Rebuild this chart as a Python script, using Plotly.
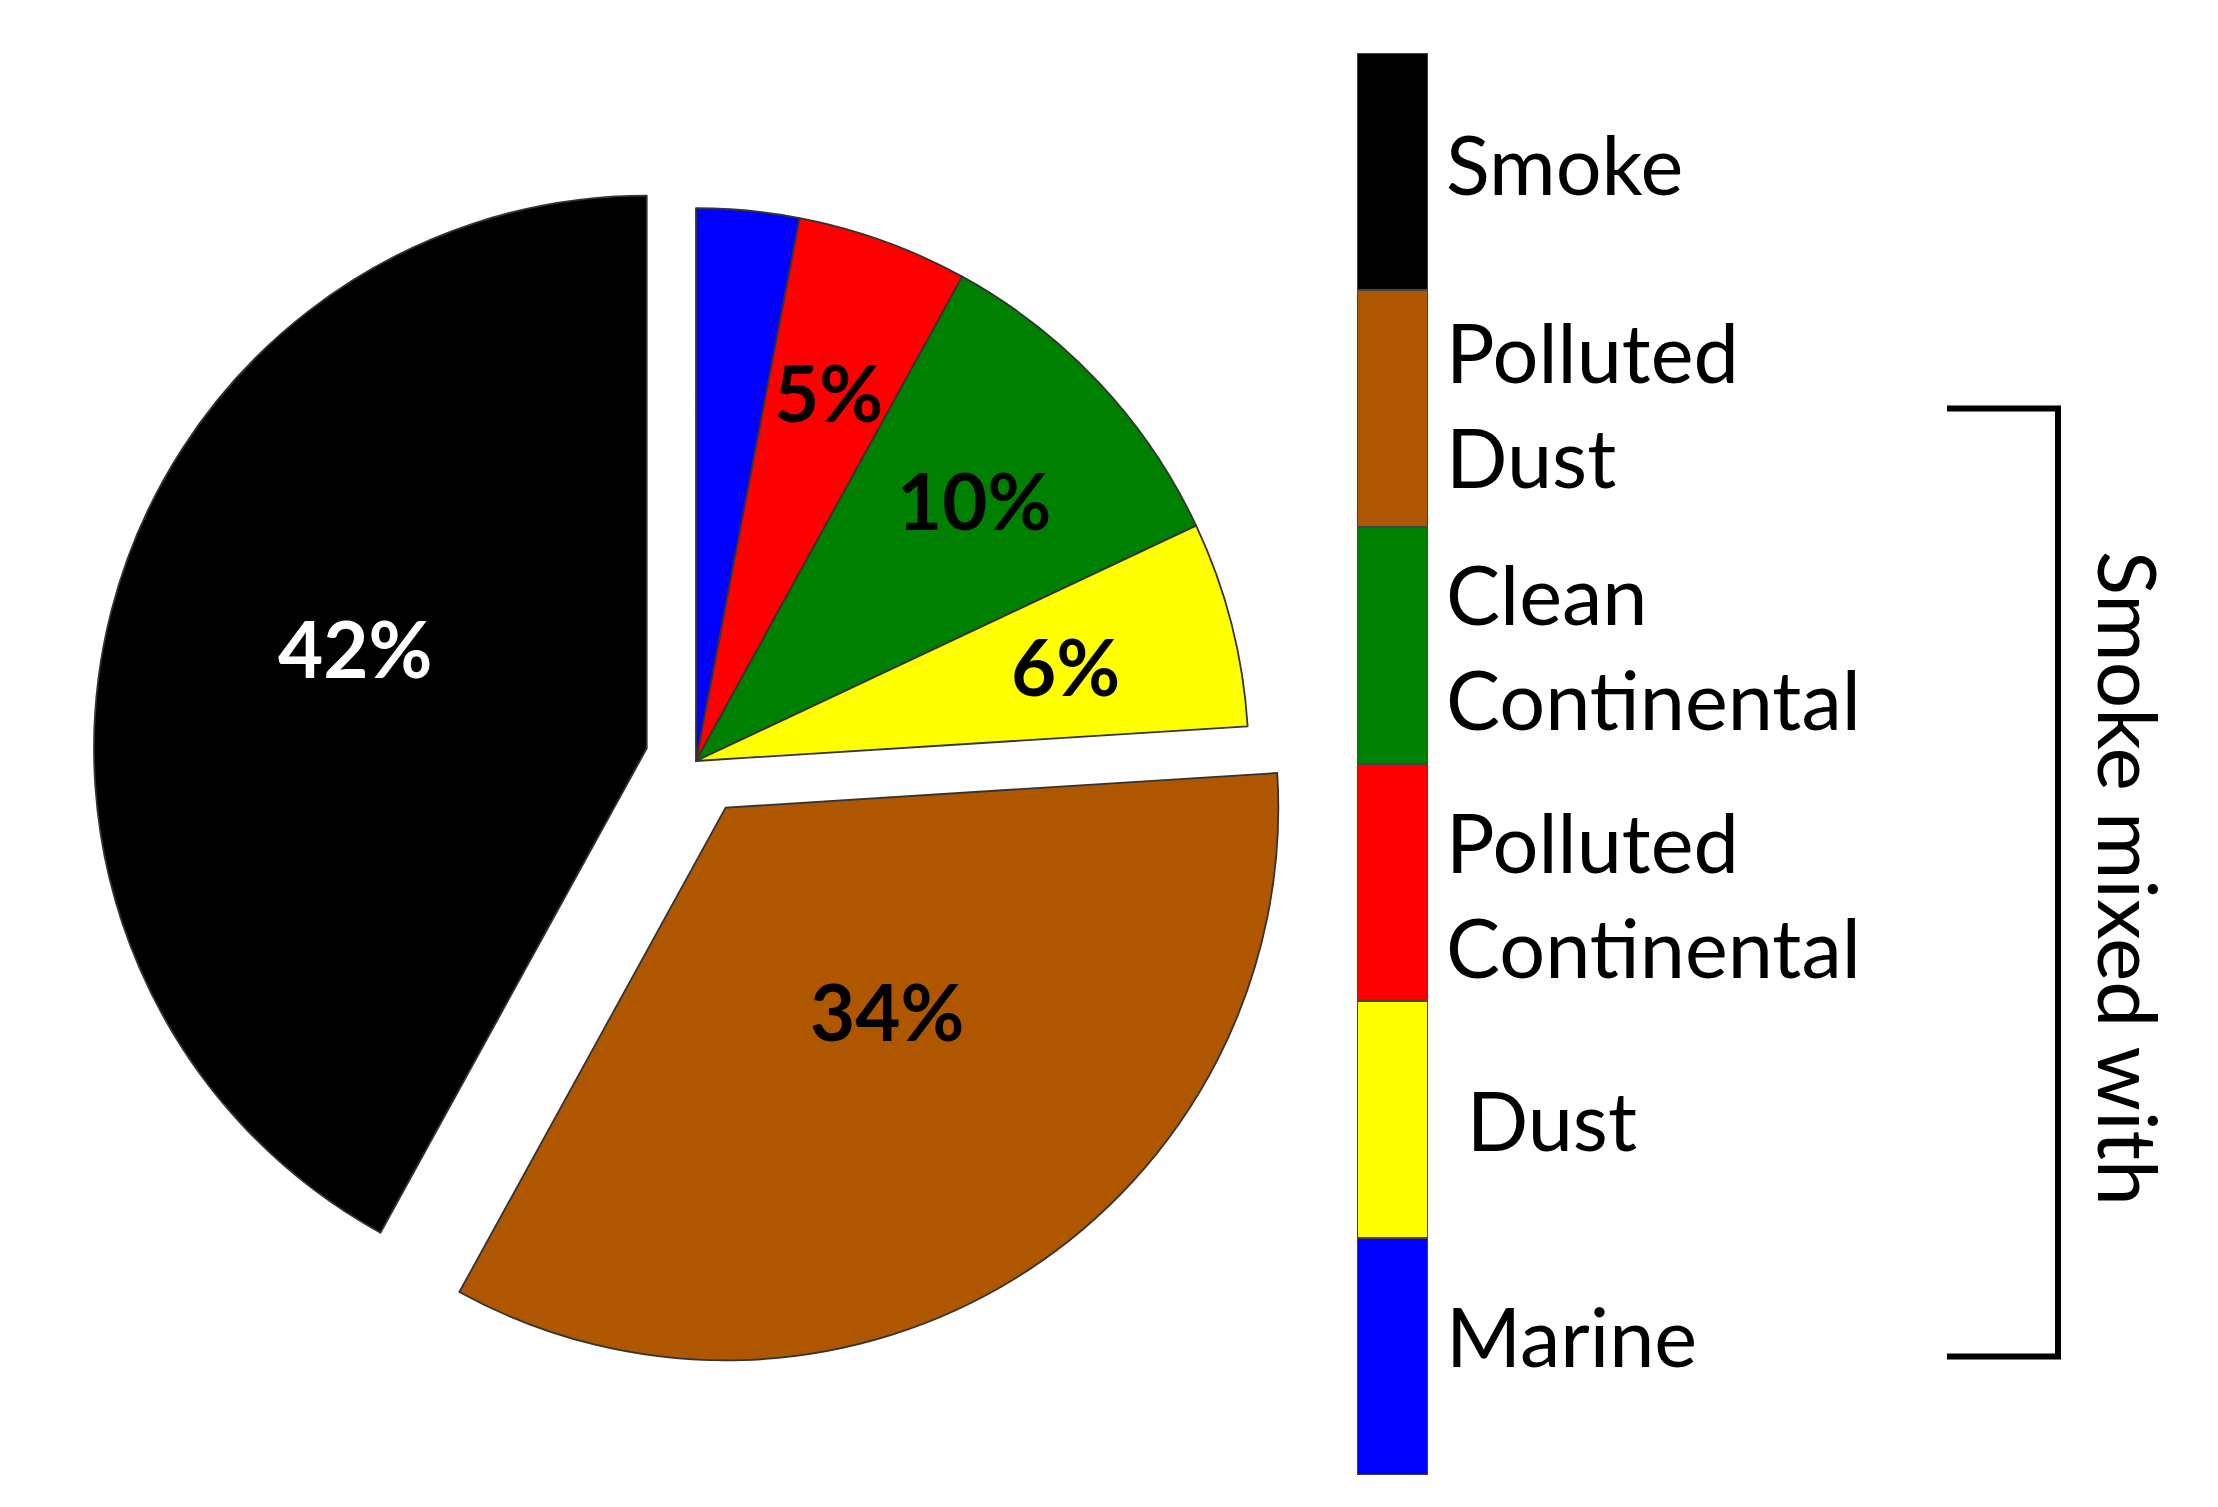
import math
import plotly.graph_objects as go

# pie slices, clockwise from 12 o'clock
pie_labels = ["Marine", "Polluted Continental", "Clean Continental", "Dust", "Polluted Dust", "Smoke"]
pie_values = [3, 5, 10, 6, 34, 42]
pie_colors = ["#0000FF", "#FF0000", "#008000", "#FFFF00", "#AE5700", "#000000"]
pie_pull = [0, 0, 0, 0, 0.10, 0.092]
text_colors = ["black", "black", "black", "black", "black", "white"]
text_radius = [0.0, 0.71, 0.69, 0.69, 0.57, 0.65]   # where each % label sits, fraction of radius
text_turn = [0, 0, 0, 0, -5, 4]                     # small angular nudge of the label (deg)

# colour key, bottom to top
key_labels = ["Marine", "\u00a0Dust", "Polluted<br>Continental", "Clean<br>Continental", "Polluted<br>Dust", "Smoke"]
key_colors = ["#0000FF", "#FFFF00", "#FF0000", "#008000", "#AE5700", "#000000"]
key_nudge = [0.09, 0.0, -0.05, 0.0, 0.02, 0.035]
mixed_first, mixed_last = 0, 4   # bracket spans Marine .. Polluted Dust

FONT = "Lato"
W, H = 2218, 1507

pie_dom = dict(x=[80 / W, 1296 / W], y=[1 - 1361 / H, 1 - 145 / H])

fig = go.Figure()

fig.add_trace(go.Pie(
    labels=pie_labels, values=pie_values, sort=False, direction="clockwise", rotation=0,
    pull=pie_pull, marker=dict(colors=pie_colors, line=dict(color="#333333", width=1.8)),
    textinfo="none", domain=pie_dom, showlegend=False, hoverinfo="label+percent",
))

# percentage labels: placed along each slice's mid-angle, same geometry plotly uses for the pie
cx = (pie_dom["x"][0] + pie_dom["x"][1]) / 2
cy = (pie_dom["y"][0] + pie_dom["y"][1]) / 2
half = min((pie_dom["x"][1] - pie_dom["x"][0]) * W, (pie_dom["y"][1] - pie_dom["y"][0]) * H) / 2
rad = half / (1 + max(pie_pull))
total, acc = sum(pie_values), 0
for lab, v, rr, turn, col in zip(pie_labels, pie_values, text_radius, text_turn, text_colors):
    ang = math.radians((acc + v / 2) / total * 360 + turn)
    acc += v
    if lab == "Marine":
        continue
    fig.add_annotation(x=cx + rr * rad * math.sin(ang) / W, y=cy + rr * rad * math.cos(ang) / H,
                       xref="paper", yref="paper", text=f"{v}%", showarrow=False,
                       xanchor="center", yanchor="middle",
                       font=dict(family=FONT, size=78, color=col, weight="bold"))

# colour key drawn as stacked bar segments
fig.add_trace(go.Bar(
    x=[0] * len(key_labels), y=[1] * len(key_labels), base=list(range(len(key_labels))),
    width=1, marker=dict(color=key_colors, line=dict(color="#444444", width=2)),
    showlegend=False, hoverinfo="skip",
))

for i, (lab, dy) in enumerate(zip(key_labels, key_nudge)):
    fig.add_annotation(x=1436 / W, xref="paper", y=i + 0.5 + dy, yref="y", text=lab,
                       showarrow=False, xanchor="left", yanchor="middle", align="left",
                       font=dict(family=FONT, size=81, color="black"))

# bracket
y0, y1 = mixed_first + 0.5, mixed_last + 0.5
xa, xb = 1939 / W, 2050 / W
fig.add_shape(type="path", xref="paper", yref="y",
              path=f"M {xa} {y1} L {xb} {y1} L {xb} {y0} L {xa} {y0}",
              line=dict(color="black", width=6))
fig.add_annotation(x=2122 / W, xref="paper", y=(y0 + y1) / 2 + 0.02, yref="y", text="Smoke mixed with",
                   textangle=90, showarrow=False, xanchor="center", yanchor="middle",
                   font=dict(family=FONT, size=82, color="black"))

fig.update_layout(
    width=W, height=H, margin=dict(l=0, r=0, t=0, b=0),
    paper_bgcolor="white", plot_bgcolor="white", barmode="overlay",
    xaxis=dict(domain=[1349 / W, 1420 / W], range=[-0.5, 0.5], visible=False, fixedrange=True),
    yaxis=dict(domain=[1 - 1467 / H, 1 - 45 / H], range=[0, len(key_labels)], visible=False, fixedrange=True),
)

fig.write_html("out.html")
